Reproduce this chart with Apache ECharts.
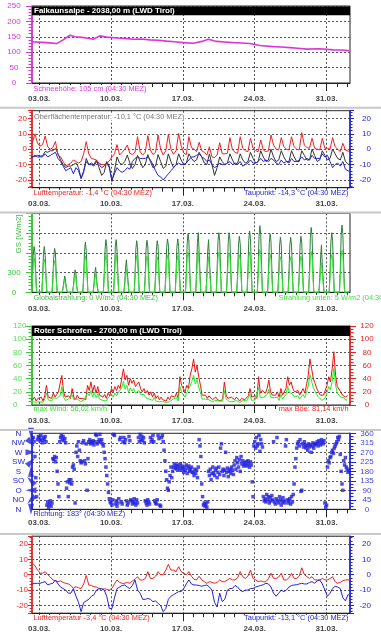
<!DOCTYPE html>
<html><head><meta charset="utf-8">
<script src="https://cdn.jsdelivr.net/npm/echarts@6/dist/echarts.min.js"></script>
<style>html,body{margin:0;padding:0;background:#fff}#c{width:381px;height:640px}</style>
</head><body><div id="c"></div>
<script>
// ---------- DATA (x = days after 03.03. 00:00) ----------
const DATE_TICKS = [0, 7, 14, 21, 28];
const DATE_LABELS = ['03.03.', '10.03.', '17.03.', '24.03.', '31.03.'];
const FIRST_DAY = -1;            // first row of every per-day table = 02.03.
const NOW = 30.1875;             // 02.04. 04:30

// Panel 1: snow height (cm)
const SNOW_T = [-0.68,-0.58,0.72,1.69,2.34,2.99,3.5,3.97,4.6,5.26,5.91,6.56,7.54,8.3,9.16,10.0,10.79,11.6,12.41,13.2,14.03,15.01,15.98,16.47,17.28,18.1,18.9,19.7,20.53,21.5,22.8,23.6,24.43,25.2,26.05,27.35,28.65,29.4,30.11,30.19];
const SNOW_V = [134,134.6,131,128,140,155,150,149,146,142,153,149,146,145,142,143,140,139,136,134,131,129,136,142,135,133,131,130,128,121.6,118,117,115,113,110,111,107.5,107,105,105];

// Panel 2 & 6: temperatures, values per day at these hours
const TEMP_HOURS = [2, 8, 14, 20];
const AIR_FALK = [[2,4,10,4],[2,3,8.6,1.5],[0,1,5,-3.8],[-5,-8,-11,-10],[-9,-7,-8,-9],[-8,-3,4.9,-3],[-6,-6.5,-7,-9],[-10,-10,-9,-7.7],[-5,-3,3,-3.8],[-2,0,2.7,-2.7],[-3.5,-2,8.1,-1.6],[-3.8,-2,8.8,-0.5],[-3.5,-2,9.2,0],[-3.8,-1,9.6,0],[-3.3,-1,10.3,2],[-2.5,-3.5,8.1,1],[0,-1.6,4.5,-1],[-2,-3.8,1.6,-5],[-5.5,-3.8,4.2,-3],[-3,-2.7,7.5,-0.5],[-2,-2.7,8.1,0.6],[-1,-1.6,7.1,0.6],[-1,-1.6,6,-0.5],[-1.6,-1,9.2,2.7],[0,-0.5,7.5,1.6],[0,-0.5,8.1,1.6],[0,-0.5,10.7,2.7],[1,0.6,7.1,0.6],[0,-0.5,7.1,0.6],[0.5,0.1,7.5,1.6],[0,-1.6,3.8,-0.5],[-1.2]];
const SURF_FALK = [[-5,-5,-4.8,-4],[-4.5,-4.2,-1.5,-2],[-1,-1,0.5,-3],[-7,-10,-12,-11],[-11,-10,-9,-12],[-19,-15,-6,-10],[-9,-10,-7,-12],[-17,-15,-8,-11],[-21,-14,-5,-9],[-10,-8,-3.8,-9],[-12.5,-10,-4,-8],[-12,-10,-3.5,-8],[-12,-11,-3.5,-8],[-12.5,-11,-3,-8],[-12,-10,-3,-7],[-10,-9,-3,-6],[-8,-7,-2,-5],[-9,-10,-3,-10],[-17,-12,-5,-8],[-10,-9,-3,-7],[-10,-9,-3,-7],[-9,-8,-2,-6],[-9,-8,-1,-5],[-8,-7,0,-5],[-8,-7,-1,-5],[-8,-8,-1,-5],[-8,-8,-1,-4],[-7,-7,0,-4],[-8,-7,-1,-4],[-7,-6,0,-3],[-6,-7,-2,-8],[-9.5]];
const DEW_FALK = [[-5,-5,-4,-5],[-5,-5,-3,-5],[-4,-3,-2,-6],[-8,-11,-14,-13],[-12,-16,-12,-14],[-19,-14,-8,-10],[-10,-11,-8,-10],[-12,-11,-9,-12],[-20,-16,-12,-14],[-15,-14,-12,-13],[-8,-6,-5,-6],[-6,-6,-5,-7],[-10,-14,-17,-18],[-20,-18,-16,-14],[-12,-10,-9,-10],[-10,-9,-7,-5],[-5,-4,-3,-5],[-6,-8,-7,-10],[-12,-11,-9,-10],[-10,-9,-8,-10],[-9,-10,-8,-11],[-10,-9,-7,-9],[-9,-8,-6,-8],[-7,-8,-6,-7],[-9,-10,-7,-9],[-8,-9,-6,-8],[-8,-7,-5,-7],[-6,-7,-4,-6],[-6,-6,-3,-5],[-4,-8,-12,-10],[-9,-11,-8,-13],[-14]];
const NOW_FALK = {air: -1.4, surf: -10.1, dew: -14.3};

const AIR_ROT = [[6,7.5,6,3],[1,1,2,0],[-1.5,-3.4,-4,-4.5],[-4,-5,-5.6,-6],[-7,-8.9,-7.8,-8.5],[-9,-6,-0.5,-6.7],[-7,-7.8,-8,-9],[-10,-9,-9.5,-10],[-8.9,-6,-3.4,-5],[-5.6,-5.6,-5,-5.6],[-4,-3,-1.3,-3.4],[-3.5,-2.5,2,-2.4],[-2.4,-1,2,0],[0,3,6.7,3],[3,2,5.2,2],[1,0,2,-1],[-3,-3.4,-1,-3.4],[-4.5,-5.6,-4.5,-5],[-5.6,-5,-3.4,-4.5],[-4.5,-3.4,-2.4,-3.4],[-3.4,-2,2,-1.3],[-2.4,-1,3,-2.4],[-3.4,-4.5,-4,-4.6],[-4.6,-2.5,0.9,-2.4],[-2.4,-1.5,0.9,-3.4],[-3.4,-2,0.9,-2.4],[-2.4,-1,4.5,0],[-1.3,-2.4,-1.3,-3.4],[-3.4,-3.4,-2.4,-3.4],[-3.4,-2.5,-1.3,-4.5],[-5.6,-5,-3.9,-3.4],[-3.4]];
const DEW_ROT = [[-6,-6,-5.6,-5.6],[-5.6,-5,-4.5,-6.7],[-6,-5.6,-3.4,-6],[-8,-9,-10,-12],[-12,-9,-14,-18],[-24,-18,-17,-16],[-14,-13,-10,-9],[-9,-10,-14,-22],[-22,-15,-9,-8],[-7,-6.7,-8,-9],[-7,-3.4,-10,-12],[-16,-16,-15.4,-16],[-17.5,-17,-18.6,-20],[-24,-22,-16,-14],[-13,-12,-11,-11],[-9,-6,-3.4,-6],[-6.7,-6.7,-7,-7.5],[-7,-6.7,-8,-10],[-18,-21,-12,-17.5],[-16,-10,-9,-8.9],[-7,-8,-10,-11],[-10,-10,-9,-9],[-8,-7.5,-7,-6.5],[-5.6,-6,-8,-12],[-14,-12,-10,-11],[-10,-8,-7,-6.7],[-6.5,-6,-5.6,-6],[-6,-5,-4.5,-5.6],[-4,-3.4,-6,-10],[-14,-12,-9,-7.5],[-8,-9,-15,-17],[-13]];
const NOW_ROT = {air: -3.4, dew: -13.1};

// Panel 3: radiation (W/m2), values per day at these hours
const RAD_HOURS = [6, 8, 10, 12, 14, 16, 18];
const RAD_GLOBAL = [[0,250,560,695,600,280,0],[0,240,590,695,560,260,0],[0,230,520,668,600,250,0],[0,80,180,247,150,60,0],[0,100,250,341,280,90,0],[0,260,620,763,640,300,0],[0,120,300,379,200,100,0],[0,280,650,800,700,320,0],[0,290,700,800,640,300,0],[0,150,380,494,300,160,0],[0,270,650,784,680,300,0],[0,280,660,790,690,310,0],[0,270,640,784,700,320,0],[0,290,680,810,720,330,0],[0,300,690,810,700,320,0],[0,320,740,889,780,360,0],[0,330,760,905,600,300,0],[0,280,620,800,500,250,0],[0,340,770,905,790,370,0],[0,330,760,905,800,360,0],[0,310,720,852,740,340,0],[0,340,790,932,820,380,0],[0,360,850,1011,880,400,0],[0,320,740,889,770,350,0],[0,300,700,837,730,330,0],[0,300,710,837,720,330,0],[0,310,720,852,750,340,0],[0,350,830,984,860,390,0],[0,220,520,720,400,200,0],[0,330,760,905,790,360,0],[0,370,860,1021,890,410,0]];
const RAD_DOWN = [[0,180,430,520,450,200,0],[0,170,440,500,420,190,0],[0,160,390,480,430,180,0],[0,60,140,190,110,40,0],[0,70,190,260,200,60,0],[0,180,450,550,470,210,0],[0,80,210,280,140,70,0],[0,200,470,570,500,230,0],[0,200,500,570,450,210,0],[0,100,270,350,210,110,0],[0,190,460,560,480,210,0],[0,190,460,550,480,210,0],[0,180,440,540,480,220,0],[0,200,470,560,500,230,0],[0,200,470,560,480,220,0],[0,220,510,610,540,250,0],[0,230,520,620,410,200,0],[0,190,420,540,340,170,0],[0,230,520,610,540,250,0],[0,220,510,600,540,240,0],[0,210,480,570,500,230,0],[0,220,520,610,540,250,0],[0,230,550,650,570,260,0],[0,210,480,580,500,230,0],[0,190,450,540,470,210,0],[0,190,450,540,460,210,0],[0,200,460,550,480,220,0],[0,220,520,620,540,250,0],[0,140,330,450,250,130,0],[0,210,480,570,500,230,0],[0,230,540,640,560,260,0]];
const NOW_RAD = {global: 0, down: 5};

// Panel 4: wind (km/h), values per day at these hours
const WIND_HOURS = [1, 5, 9, 13, 17, 21];
const GUST = [[10,9,8,12,6,10],[8,12,6,14,30,12],[15,10,18,12,16,20],[22,45,20,12,10,14],[10,25,12,8,15,10],[8,10,12,8,30,22],[35,20,30,18,28,15],[15,12,16,10,18,14],[25,20,28,22,30,25],[40,55,38,45,30,40],[33,38,28,30,35,25],[20,25,18,22,15,20],[12,18,10,14,8,12],[8,10,6,12,8,14],[15,12,18,10,43,30],[28,20,30,25,45,55],[70,50,60,43,30,15],[12,15,10,14,12,8],[10,12,8,10,6,10],[35,15,10,8,12,9],[8,12,10,6,10,12],[8,10,14,25,12,10],[14,10,43,18,22,20],[18,25,38,20,15,18],[15,20,12,25,15,18],[25,43,30,35,25,20],[18,22,15,20,25,18],[30,45,70,55,40,33],[25,20,15,12,15,18],[30,43,35,55,81,45],[28,25,20,15,18,12],[15]];
const MEAN = [[6,5,5,7,4,6],[5,7,4,9,18,8],[9,6,11,8,10,13],[14,28,12,7,6,9],[6,15,8,5,9,6],[5,6,8,5,18,14],[22,12,19,11,17,9],[9,7,10,6,11,8],[16,12,18,14,19,16],[26,36,24,30,19,26],[21,25,18,19,22,16],[13,16,11,14,9,12],[7,11,6,9,5,7],[5,6,4,7,5,8],[9,7,11,6,28,19],[18,12,19,16,29,36],[45,32,39,27,19,9],[7,9,6,8,7,5],[6,7,5,6,4,6],[22,9,6,5,7,5],[5,7,6,4,6,7],[5,6,9,16,7,6],[8,6,27,11,14,12],[11,16,24,12,9,11],[9,12,7,16,9,11],[16,28,19,22,16,12],[11,14,9,12,16,11],[19,29,46,36,26,21],[16,12,9,7,9,11],[19,28,23,36,56,30],[18,16,12,9,11,7],[9]];

// Panel 5: wind direction (deg), values per day every 2 hours
const DIR_HOURS = [0, 2, 4, 6, 8, 10, 12, 14, 16, 18, 20, 22];
const DIR = [[330,330,330,330,335,340,320,250,150,60,330,345],[340,325,350,330,315,340,330,345,320,20,35,10],[25,40,15,30,240,235,250,225,245,180,120,60],[320,340,350,330,345,325,335,315,100,130,60,140],[125,140,120,200,210,190,30,270,300,250,320,280],[230,220,225,315,325,230,215,310,90,240,320,330],[310,320,315,325,305,320,355,350,310,320,330,355],[320,330,310,300,270,240,200,160,120,80,50,35],[30,20,45,355,350,25,40,15,30,50,330,340],[35,25,320,340,315,330,40,20,30,345,325,45],[40,25,35,50,30,20,45,30,340,320,355,330],[345,325,340,315,40,30,20,45,35,25,340,320],[330,350,320,40,30,25,45,350,335,20,15,340],[350,320,280,230,180,140,100,90,130,160,200,150],[180,200,215,195,205,190,210,200,185,215,195,205],[190,175,200,185,210,170,195,205,180,190,200,175],[175,160,190,170,185,150,200,330,300,250,120,60],[20,30,15,25,10,35,180,160,190,140,170,200],[170,160,185,195,150,175,200,165,290,310,180,190],[160,185,270,175,195,155,180,190,170,200,185,165],[210,230,190,245,220,200,235,180,250,215,230,205],[220,210,225,205,230,215,200,225,210,130,60,300],[320,290,340,300,310,350,275,330,310,295,60,40],[50,35,70,45,60,30,55,40,65,45,320,35],[25,50,340,40,30,60,45,20,35,55,40,30],[300,330,45,30,40,50,25,60,35,70,120,200],[240,290,310,320,300,330,85,90,310,295,320,305],[290,300,280,310,295,305,270,300,315,290,305,310],[310,320,300,325,315,305,330,320,310,325,30,10],[20,200,230,220,245,250,270,280,265,290,300,310],[320,340,330,345,260,180,120,90,230,210,245,200],[190,175,183]];
const DIR_NAMES = ['N', 'NO', 'O', 'SO', 'S', 'SW', 'W', 'NW', 'N'];
const ARROW_DIRS = [0, 45, 90, 135, 180, 225, 270, 315, 360];

// ---------- helpers ----------
function rows(table, hours, nowVal) {
  const out = [];
  table.forEach((vals, i) => vals.forEach((v, j) => out.push([FIRST_DAY + i + hours[j] / 24, v])));
  if (nowVal !== undefined) out.push([NOW, nowVal]);
  return out;
}
const FONT = 'Liberation Sans';
const X_MIN = -0.7, X_MAX = 30.28;
const DAY_TICKS = []; for (let d = 0; d <= 30; d++) DAY_TICKS.push(d);
const C = {mag:'#dd33dd', red:'#ee2222', blue:'#2222dd', green:'#33cc33', dkgreen:'#2a7f3a', brgreen:'#33e033', black:'#222'};
const GRIDS = [{top:6,h:77},{top:110.7,h:77},{top:213.3,h:79},{top:326,h:79},{top:433.3,h:76},{top:536.2,h:77}];
const DATE_MARGIN = [12, 12, 12, 12, 9, 12];
const gridLine = {show:true, lineStyle:{color:'#555', type:[2,2], width:1}};

const xAxis = [];
GRIDS.forEach((g, i) => {
  xAxis.push({type:'value', gridIndex:i, min:X_MIN, max:X_MAX, position:'bottom',
    axisLine:{show:true, onZero:false, lineStyle:{color:C.black}},
    axisTick:{show:true, customValues:DATE_TICKS, length:8, lineStyle:{color:C.black}},
    axisLabel:{show:true, customValues:DATE_TICKS, margin:DATE_MARGIN[i], fontSize:8, fontWeight:'bold', color:'#444', fontFamily:FONT,
      formatter: v => DATE_LABELS[DATE_TICKS.indexOf(Math.round(v))] || ''},
    splitLine:gridLine});
  xAxis.push({type:'value', gridIndex:i, min:X_MIN, max:X_MAX, position:'bottom',
    axisLine:{show:false, onZero:false},
    axisTick:{show:true, customValues:DAY_TICKS, length:4, lineStyle:{color:C.black}},
    axisLabel:{show:false}, splitLine:{show:false}});
});

function yAx(o) {
  return {type:'value', gridIndex:o.grid, position:o.pos, min:o.min, max:o.max, interval:o.interval, splitNumber:5,
    axisLine:{show:true, onZero:false, lineStyle:{color:o.color, width:1.5}},
    axisTick:{show:o.ticks !== false, length:o.tl || 6, lineStyle:{color:o.color}},
    minorTick:{show:o.minor > 0, splitNumber:o.minor || 5, length:o.ml || 3.5, lineStyle:{color:o.color}},
    axisLabel:{show:true, color:o.lcolor || o.color, fontSize:8, fontFamily:FONT, margin:o.margin, align:o.align,
      showMinLabel:o.showEdge !== false, showMaxLabel:o.showEdge !== false, formatter:o.fmt, hideOverlap:false},
    splitLine:o.split ? gridLine : {show:false}};
}
const yAxis = [
  yAx({grid:0,pos:'left',min:0,max:250,interval:50,color:C.mag,minor:5,margin:18,align:'center',split:true}),
  yAx({grid:1,pos:'left',min:-25,max:25,color:C.red,minor:5,tl:4,ml:2.5,margin:5,align:'right',split:true,showEdge:false}),
  yAx({grid:1,pos:'right',min:-25,max:25,color:C.blue,minor:5,tl:4,ml:2.5,margin:21,align:'right',showEdge:false}),
  yAx({grid:2,pos:'left',min:0,max:1200,interval:300,color:C.green,minor:6,margin:18,align:'center',split:true,
    fmt: v => (v === 0 || v === 300) ? String(v) : ''}),
  yAx({grid:3,pos:'left',min:0,max:120,interval:20,color:C.green,lcolor:'#55dd55',minor:4,margin:19,align:'left',split:true}),
  yAx({grid:3,pos:'right',min:0,max:120,interval:20,color:C.red,minor:4,margin:17,align:'center'}),
  yAx({grid:4,pos:'left',min:0,max:360,interval:45,color:C.blue,ticks:false,minor:0,margin:13.5,align:'center',split:true,
    fmt: v => DIR_NAMES[Math.round(v / 45)]}),
  yAx({grid:4,pos:'right',min:0,max:360,interval:45,color:C.blue,lcolor:'#4444ee',minor:3,margin:17,align:'center'}),
  yAx({grid:5,pos:'left',min:-25,max:25,color:C.red,minor:5,tl:4,ml:2.5,margin:4,align:'right',split:true,showEdge:false}),
  yAx({grid:5,pos:'right',min:-25,max:25,color:C.blue,minor:5,tl:4,ml:2.5,margin:21,align:'right',showEdge:false})
];

function line(xi, yi, data, color, w, z) {
  return {type:'line', xAxisIndex:xi, yAxisIndex:yi, data, symbol:'none', showSymbol:false,
    lineStyle:{color, width:w || 1}, itemStyle:{color}, z:z || 2, silent:true, animation:false};
}
const series = [
  line(0, 0, SNOW_T.map((t, i) => [t, SNOW_V[i]]), C.mag, 1.6),
  line(2, 1, rows(SURF_FALK, TEMP_HOURS, NOW_FALK.surf), '#333', 1),
  line(2, 2, rows(DEW_FALK, TEMP_HOURS, NOW_FALK.dew), C.blue, 1, 3),
  line(2, 1, rows(AIR_FALK, TEMP_HOURS, NOW_FALK.air), C.red, 1, 4),
  line(4, 3, rows(RAD_GLOBAL, RAD_HOURS, NOW_RAD.global), C.dkgreen, 1),
  line(4, 3, rows(RAD_DOWN, RAD_HOURS, NOW_RAD.down), C.brgreen, 1, 3),
  line(6, 5, rows(GUST, WIND_HOURS), '#ee1111', 1),
  line(6, 4, rows(MEAN, WIND_HOURS), '#22ee22', 1, 3),
  {type:'scatter', xAxisIndex:8, yAxisIndex:7, data:rows(DIR, DIR_HOURS), symbol:'rect', symbolSize:3.5,
    itemStyle:{color:C.blue}, silent:true, animation:false},
  {type:'scatter', xAxisIndex:8, yAxisIndex:6, clip:false, silent:true, animation:false,
    data: ARROW_DIRS.map(d => ({value:[X_MIN, d], symbolRotate: -(d + 180)})),
    symbol:'triangle', symbolSize:[6, 11], symbolOffset:[-1, 0], itemStyle:{color:C.blue}, z:5},
  line(10, 8, rows(AIR_ROT, TEMP_HOURS, NOW_ROT.air), C.red, 1),
  line(10, 9, rows(DEW_ROT, TEMP_HOURS, NOW_ROT.dew), C.blue, 1, 3)
];

// ---------- decorations ----------
const TXT = 7.4;
function label(x, y, text, color, align) {
  return {type:'text', x, y, z:100, style:{text, fill:color, font:TXT + 'px "' + FONT + '"', align:align || 'left',
    verticalAlign:'middle', backgroundColor:'#fff', padding:[0, 1]}};
}
function sep(y) { return {type:'line', z:90, shape:{x1:0, y1:y, x2:381, y2:y}, style:{stroke:'#c8c8c8', lineWidth:2}}; }
function bar(y, h, text) {
  return [{type:'rect', z:100, shape:{x:32, y, width:318, height:h}, style:{fill:'#000'}},
          {type:'text', z:101, x:34, y:y + h / 2, style:{text, fill:'#fff', font:'bold 8px "' + FONT + '"', verticalAlign:'middle'}}];
}
const graphic = [
  sep(107.7), sep(212.5), sep(430), sep(534),
  ...bar(6.5, 8.7, 'Falkaunsalpe - 2038,00 m (LWD Tirol)'),
  ...bar(326, 10, 'Roter Schrofen - 2700,00 m (LWD Tirol)'),
  label(32.5, 88.5, 'Schneehöhe: 105 cm (04:30 MEZ)', C.mag),
  label(33, 116.7, 'Oberflächentemperatur: -10,1 °C (04:30 MEZ)', '#777'),
  label(32.5, 193.3, 'Lufttemperatur: -1,4 °C (04:30 MEZ)', C.red),
  label(349.5, 193.3, 'Taupunkt: -14,3 °C (04:30 MEZ)', C.blue, 'right'),
  label(32.5, 298.3, 'Globalstrahlung: 0 W/m2 (04:30 MEZ)', '#44bb44'),
  label(277.5, 298.3, 'Strahlung unten: 5 W/m2 (04:30 MEZ)', '#44e044'),
  {type:'text', z:100, x:19, y:234, rotation:Math.PI / 2, style:{text:'GS [W/m2]', fill:'#44bb44', font:'8px "' + FONT + '"', align:'center', verticalAlign:'middle'}},
  label(32.5, 409.3, 'max Wind: 56,02 km/h', '#33dd33'),
  label(349.5, 409.3, 'max Böe: 81,14 km/h', C.red, 'right'),
  label(32.5, 514.3, 'Richtung: 183° (04:30 MEZ)', C.blue),
  label(32.5, 618.3, 'Lufttemperatur -3,4 °C (04:30 MEZ)', C.red),
  label(349.5, 618.3, 'Taupunkt: -13,1 °C (04:30 MEZ)', C.blue, 'right')
];

const chart = echarts.init(document.getElementById('c'), null, {renderer:'canvas'});
chart.setOption({
  animation:false, backgroundColor:'#fff',
  grid: GRIDS.map(g => ({left:32, right:31, top:g.top, height:g.h, show:true, borderColor:'#222', borderWidth:1, backgroundColor:'transparent'})),
  xAxis, yAxis, series, graphic
});
</script></body></html>
